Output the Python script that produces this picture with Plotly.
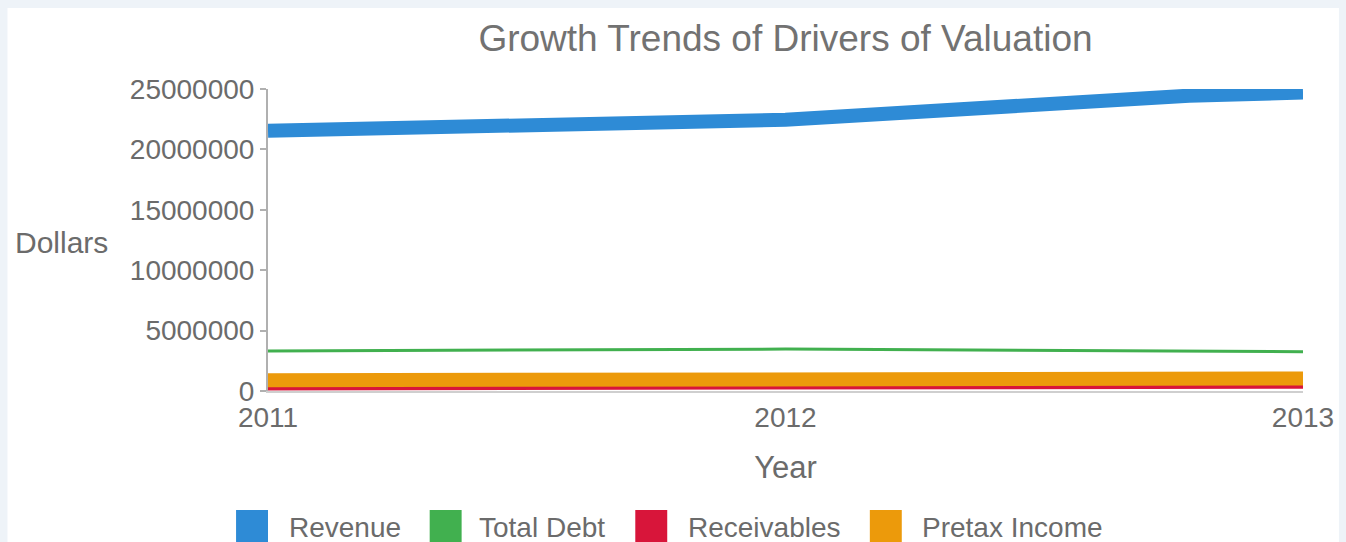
import plotly.graph_objects as go

# ---- data ----
years = [2011, 2012, 2013]
tick_labels = ["2011", "2012", "2013"]
revenue_x = [2011, 2012, 2012.78, 2013]
revenue = [21550000, 22450000, 24450000, 24700000]
total_debt = [3310000, 3470000, 3250000]
receivables = [250000, 300000, 400000]
pretax_income = [900000, 950000, 1030000]

series_names = ["Revenue", "Total Debt", "Receivables", "Pretax Income"]
colors = ["#2e8bd6", "#41b04f", "#d8153a", "#ec9a0b"]
widths = [14, 3, 5, 14]

FONT = "Liberation Sans, Arial, Helvetica, sans-serif"
TXT = "#6b6b6b"

W, H = 1346, 542
L, R, T, B = 268, 41, 89, 151
PW, PH = W - L - R, H - T - B


def px(x):
    return (x - L) / PW


def py(y):
    return (T + PH - y) / PH


fig = go.Figure()
xs = [revenue_x, years, years, years]
ys = [revenue, total_debt, receivables, pretax_income]
for name, x, y, c, w in zip(series_names, xs, ys, colors, widths):
    fig.add_trace(go.Scatter(x=x, y=y, mode="lines", name=name,
                             line=dict(color=c, width=w),
                             showlegend=False, hoverinfo="x+y+name"))

shapes = [dict(type="rect", xref="paper", yref="paper",
               x0=px(7), x1=px(1341), y0=py(560), y1=py(8),
               fillcolor="white", line=dict(width=0), layer="below")]
annotations = [dict(text="Dollars", xref="paper", yref="paper",
                    x=px(61), y=py(243), xanchor="center", yanchor="middle",
                    showarrow=False, font=dict(family=FONT, size=30, color=TXT))]

# manual legend with large square swatches
sq_left = [236, 430, 636, 871]
text_left = [287, 477, 687, 921]
for name, c, sx, tx in zip(series_names, colors, sq_left, text_left):
    shapes.append(dict(type="rect", xref="paper", yref="paper",
                       x0=px(sx), x1=px(sx + 32), y0=py(543), y1=py(510),
                       fillcolor=c, line=dict(width=0)))
    annotations.append(dict(text=name, xref="paper", yref="paper",
                            x=px(tx), y=py(527), xanchor="left", yanchor="middle",
                            showarrow=False,
                            font=dict(family=FONT, size=28, color=TXT)))

fig.update_layout(
    width=W, height=H,
    margin=dict(l=L, r=R, t=T, b=B),
    paper_bgcolor="#eef3f8",
    plot_bgcolor="white",
    font=dict(family=FONT, color=TXT),
    title=dict(text="Growth Trends of Drivers of Valuation",
               x=0.5, xref="paper", xanchor="center",
               y=1 - 38 / H, yanchor="middle",
               font=dict(family=FONT, size=37, color="#727272")),
    showlegend=False,
    shapes=shapes,
    annotations=annotations,
    xaxis=dict(range=[2011, 2013], tickvals=years, ticktext=tick_labels,
               showgrid=False, zeroline=False, showline=True,
               linecolor="#cfcfcf", linewidth=2, ticks="",
               tickfont=dict(family=FONT, size=28, color=TXT),
               title=dict(text="Year", standoff=25,
                          font=dict(family=FONT, size=31, color=TXT))),
    yaxis=dict(range=[0, 25000000], dtick=5000000, tickformat="d",
               showgrid=False, zeroline=False, showline=True,
               linecolor="#b0b0b0", linewidth=2,
               ticks="outside", ticklen=6, tickwidth=2, tickcolor="#b0b0b0",
               tickfont=dict(family=FONT, size=28, color=TXT)),
)

fig.write_html("out.html")
